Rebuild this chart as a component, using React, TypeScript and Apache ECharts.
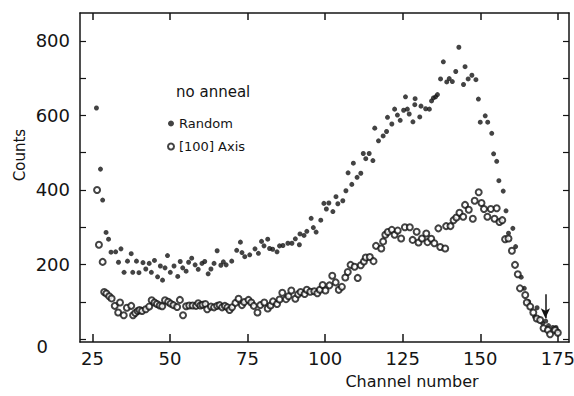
import React, { useEffect, useRef } from "react";
import * as echarts from "echarts";

const randomCh = [26.3,27.6,28.3,29.4,30.2,31.0,32.5,33.4,34.2,35.2,36.3,37.5,38.0,39.2,40.0,41.3,42.2,43.3,44.0,45.0,46.0,46.9,47.6,48.4,49.2,50.1,51.3,52.5,53.3,54.1,55.2,56.0,57.0,58.1,59.1,60.3,61.2,62.3,63.2,64.2,65.2,66.4,67.2,68.1,69.9,71.5,72.7,73.2,74.1,75.7,77.4,78.5,79.5,80.3,81.5,82.1,83.1,84.5,85.3,86.4,88.0,89.3,90.4,91.7,91.9,93.2,94.1,95.5,96.2,97.1,98.6,99.6,100.4,101.2,102.5,103.5,104.1,105.7,106.7,107.4,108.6,109.1,110.3,111.5,112.3,113.1,114.2,115.4,116.0,117.2,118.7,119.8,120.1,121.5,122.4,123.3,124.2,125.3,125.9,126.5,127.1,128.3,128.9,129.0,130.5,130.9,132.4,133.6,134.3,134.9,135.6,136.2,137.2,138.1,139.2,140.0,141.0,142.1,143.1,144.6,145.1,146.1,147.3,148.6,149.4,150.0,151.6,152.4,153.7,154.3,155.3,156.0,157.4,158.3,159.1,160.5,161.4,163.2,164.2,165.6,167.5,168.3,170.1,171.1,172.0,173.4,174.4,174.9];
const randomCounts = [620,456,373,286,268,233,234,206,242,179,209,229,179,209,178,205,188,203,179,211,167,196,158,191,224,179,196,168,208,191,182,206,217,199,187,203,208,175,188,203,237,198,207,199,209,238,260,232,221,226,242,230,262,250,268,243,241,234,250,251,257,257,269,253,282,278,289,324,299,287,319,364,349,365,342,382,363,371,398,446,415,472,434,445,498,484,498,479,566,532,545,557,595,577,617,601,587,614,650,617,604,583,629,645,596,625,618,617,639,647,650,656,698,744,690,699,691,718,783,683,731,698,708,696,644,582,599,582,552,497,477,425,397,344,284,297,248,166,136,100,60,84,42,48,36,31,31,22];

const axisCh = [26.5,27.1,28.3,28.8,29.5,30.4,31.2,32.2,33.3,33.9,35.1,36.1,37.5,38.1,38.8,39.6,40.2,41.0,42.2,43.3,44.1,45.0,45.8,46.7,47.5,48.4,49.4,50.2,51.1,52.3,53.2,54.2,55.2,56.2,57.3,58.4,59.1,59.8,60.5,61.4,62.0,63.2,64.2,65.2,66.0,66.8,67.7,68.5,69.2,70.0,71.1,72.1,73.2,73.9,75.3,76.2,77.0,78.2,79.1,80.4,81.5,82.4,83.2,84.5,85.3,86.2,87.4,88.2,89.1,90.4,91.3,92.1,93.4,94.1,95.2,96.5,97.5,98.3,99.2,100.1,101.4,102.3,103.4,104.4,105.4,106.5,107.3,108.2,109.5,110.5,111.5,112.5,113.1,114.4,115.6,116.4,118.1,118.7,119.4,120.2,121.5,122.4,123.4,124.5,125.7,127.3,128.2,129.5,130.1,131.2,132.6,133.0,134.2,135.2,136.5,137.1,138.7,139.0,140.4,141.4,142.3,143.3,144.5,145.1,146.3,147.6,148.2,149.5,150.4,151.2,152.3,153.4,154.6,155.3,156.2,157.1,158.0,159.1,160.2,161.2,162.1,162.8,164.5,165.0,166.1,167.1,168.2,169.3,170.4,171.8,172.5,174.1,175.0];
const axisCounts = [400,253,207,126,122,115,109,89,71,98,64,84,89,64,70,75,78,75,80,87,104,98,94,90,88,104,100,95,91,86,105,64,88,90,90,89,96,90,92,94,80,87,85,89,91,85,89,85,78,85,97,108,91,99,105,98,89,71,91,98,82,90,101,94,106,124,107,115,130,108,120,126,121,132,127,128,123,132,145,130,144,170,152,132,140,165,180,199,194,164,198,208,219,220,209,250,243,262,280,287,293,280,291,270,300,300,266,288,259,270,283,260,269,257,297,247,243,303,303,319,326,339,328,360,347,323,371,394,365,349,328,349,323,351,314,319,268,270,237,199,174,136,118,98,87,71,55,51,29,24,13,24,17];

const xTicks = [25, 50, 75, 100, 125, 150, 175];
const yTicks = [0, 100, 200, 300, 400, 500, 600, 700, 800];
const yLabels = [0, 200, 400, 600, 800];
const arrowFrom = [171, 120];
const arrowTo = [171, 56];

const FONT = "DejaVu Sans";
const INK = "#141414";

export default function App() {
  const ref = useRef<HTMLDivElement>(null);
  useEffect(() => {
    document.body.style.margin = "0";
    const chart = echarts.init(ref.current!, undefined, { renderer: "svg" });
    const mkLine = () => ({ show: true, onZero: false, lineStyle: { color: INK, width: 1.5 } });
    chart.setOption({
      animation: false,
      backgroundColor: "#fff",
      grid: { left: 80, right: 5, top: 13, bottom: 54, containLabel: false, outerBoundsMode: "none" },
      title: {
        text: "no anneal",
        left: 171,
        top: 79,
        textStyle: { fontFamily: FONT, fontSize: 15, fontWeight: "normal", color: INK },
      },
      legend: {
        orient: "vertical",
        left: 162,
        top: 112,
        itemWidth: 6,
        itemHeight: 6,
        itemGap: 10,
        textStyle: { fontFamily: FONT, fontSize: 13, color: INK },
        data: [
          { name: "Random", icon: "circle", itemStyle: { color: INK, borderWidth: 0 } },
          { name: "[100] Axis", icon: "emptyCircle", itemStyle: { color: INK, borderColor: INK, borderWidth: 0.7 } },
        ],
      },
      xAxis: [
        {
          type: "value",
          min: 21,
          max: 178.6,
          position: "bottom",
          splitLine: { show: false },
          axisLine: mkLine(),
          axisTick: { inside: true, length: 8, customValues: xTicks, lineStyle: { color: INK, width: 1.5 } },
          axisLabel: { customValues: xTicks, margin: 7, fontFamily: FONT, fontSize: 18, color: INK },
        },
        {
          type: "value",
          min: 21,
          max: 178.6,
          position: "top",
          splitLine: { show: false },
          axisLine: mkLine(),
          axisTick: { inside: true, length: 7, customValues: xTicks, lineStyle: { color: INK, width: 1.5 } },
          axisLabel: { show: false },
        },
      ],
      yAxis: [
        {
          type: "value",
          min: -8,
          max: 875,
          position: "left",
          splitLine: { show: false },
          axisLine: mkLine(),
          axisTick: { inside: true, length: 6, customValues: yTicks, lineStyle: { color: INK, width: 1.2 } },
          axisLabel: {
            customValues: yLabels,
            margin: 10,
            fontFamily: FONT,
            fontSize: 18,
            color: INK,
            formatter: (v: number) => (v === 0 ? "{z|0}" : String(v)),
            rich: { z: { fontFamily: FONT, fontSize: 18, color: INK, padding: [14, 22, 0, 0] } },
          },
        },
        {
          type: "value",
          min: -8,
          max: 875,
          position: "right",
          splitLine: { show: false },
          axisLine: mkLine(),
          axisTick: { inside: true, length: 6, customValues: yTicks, lineStyle: { color: INK, width: 1.2 } },
          axisLabel: { show: false },
        },
      ],
      graphic: [
        {
          type: "text",
          x: 20,
          y: 155,
          rotation: Math.PI / 2,
          style: { text: "Counts", font: `15px "${FONT}"`, fill: INK, align: "center", verticalAlign: "middle" },
        },
        {
          type: "text",
          x: 412,
          y: 381,
          style: { text: "Channel number", font: `16px "${FONT}"`, fill: INK, align: "center", verticalAlign: "middle" },
        },
      ],
      series: [
        {
          name: "Random",
          type: "scatter",
          symbol: "circle",
          symbolSize: 5,
          itemStyle: { color: INK },
          data: randomCh.map((c, i) => [c, randomCounts[i]]),
          markLine: {
            silent: true,
            symbol: ["none", "arrow"],
            symbolSize: [7, 10],
            label: { show: false },
            lineStyle: { color: INK, width: 1.5, type: "solid" },
            data: [[{ coord: arrowFrom }, { coord: arrowTo }]],
          },
        },
        {
          name: "[100] Axis",
          type: "scatter",
          symbol: "emptyCircle",
          symbolSize: 6,
          itemStyle: { color: INK, borderColor: INK, borderWidth: 0.7 },
          data: axisCh.map((c, i) => [c, axisCounts[i]]),
        },
      ],
    });
    return () => chart.dispose();
  }, []);
  return <div ref={ref} style={{ width: 574, height: 396 }} />;
}
